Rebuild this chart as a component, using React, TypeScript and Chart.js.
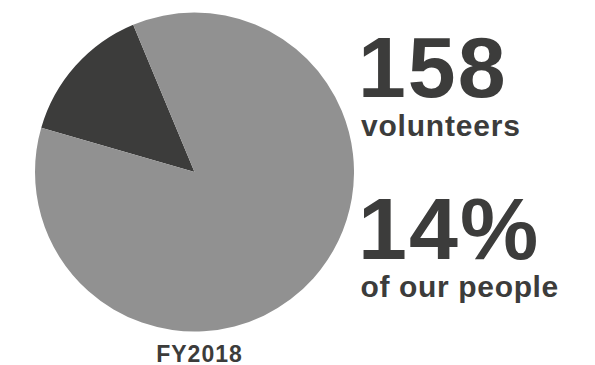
import React, { useEffect, useRef } from "react";
import { Chart, registerables } from "chart.js";

Chart.register(...registerables);

const categories = ["Volunteers", "Other people"];
const values = [158, 951];
const colors = ["#3c3c3b", "#919191"];
const headline1 = "158";
const caption1 = "volunteers";
const headline2 = "14%";
const caption2 = "of our people";
const label = "FY2018";

const TEXT = "#3c3c3b";
const FONT = '"Liberation Sans", Arial, Helvetica, sans-serif';

export default function App() {
  const ref = useRef<HTMLCanvasElement | null>(null);

  useEffect(() => {
    if (!ref.current) return;
    const chart = new Chart(ref.current, {
      type: "pie",
      data: {
        labels: categories,
        datasets: [
          {
            data: values,
            backgroundColor: colors,
            borderWidth: 0,
          },
        ],
      },
      options: {
        responsive: false,
        animation: false,
        rotation: -73.9,
        layout: { padding: 0 },
        plugins: {
          legend: { display: false },
          tooltip: { enabled: false },
          title: { display: false },
        },
      },
    });
    return () => chart.destroy();
  }, []);

  const textBase: React.CSSProperties = {
    position: "absolute",
    fontFamily: FONT,
    fontWeight: 700,
    color: TEXT,
    lineHeight: 1,
    whiteSpace: "nowrap",
    margin: 0,
  };

  return (
    <div
      style={{
        position: "absolute",
        left: 0,
        top: 0,
        width: 595,
        height: 365,
        background: "#ffffff",
        overflow: "hidden",
      }}
    >
      <canvas
        ref={ref}
        width={319}
        height={320}
        style={{ position: "absolute", left: 35, top: 12, width: 319, height: 320 }}
      />
      <div style={{ ...textBase, left: 358, top: 24, fontSize: 86, letterSpacing: 2 }}>
        {headline1}
      </div>
      <div style={{ ...textBase, left: 361, top: 111, fontSize: 30, letterSpacing: 0.8 }}>
        {caption1}
      </div>
      <div style={{ ...textBase, left: 358, top: 184.5, fontSize: 88, letterSpacing: 2 }}>
        {headline2}
      </div>
      <div style={{ ...textBase, left: 360.5, top: 272, fontSize: 30, letterSpacing: 0.65 }}>
        {caption2}
      </div>
      <div
        style={{
          ...textBase,
          left: 199.5,
          top: 342.5,
          fontSize: 23,
          letterSpacing: 1,
          transform: "translateX(-50%)",
        }}
      >
        {label}
      </div>
    </div>
  );
}
